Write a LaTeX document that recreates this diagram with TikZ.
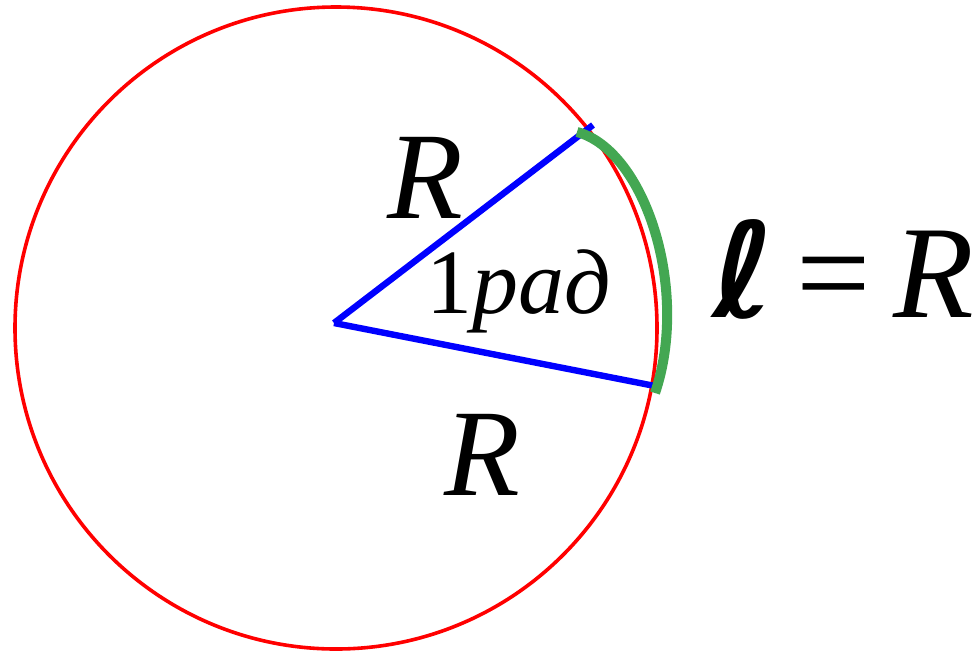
\documentclass[tikz,border=0pt]{standalone}
\usepackage{fontspec}
\setmainfont{Liberation Serif}
\newfontfamily\ellfont{DejaVu Sans}
\begin{document}
\begin{tikzpicture}[x=0.5pt,y=-0.5pt,
  radline/.style={draw=blue,line width=3.2pt},
  circ/.style={draw=red,line width=1.8pt},
  arcl/.style={line width=5pt,draw={rgb,255:red,67;green,167;blue,82}},
  lbl/.style={inner sep=0pt,anchor=base}]
\useasboundingbox (0,0) rectangle (977,654);
\coordinate (O) at (334,323);
\coordinate (A) at (593,125);
\coordinate (B) at (655,386);
\coordinate (G1) at (577,132);
\coordinate (G2) at (655,393);
\draw[circ] (336,328) circle[radius=321];
\draw[radline] (O) -- (A);
\draw[radline] (O) -- (B);
\draw[arcl] (G1) .. controls (645,150) and (690,290) .. (G2);
\node[lbl,font=\fontsize{62}{62}\selectfont\itshape] (r1) at (425,218) {R};
\node[lbl,font=\fontsize{62}{62}\selectfont\itshape] (r2) at (482,495) {R};
\node[lbl,font=\fontsize{46}{46}\selectfont] (rad) at (519,313) {1\textit{рад}};
\node[lbl,font=\fontsize{66}{66}\selectfont] (eq) at (843,317) {{\ellfont\bfseries ℓ}\,=\,\textit{R}};
\end{tikzpicture}
\end{document}
